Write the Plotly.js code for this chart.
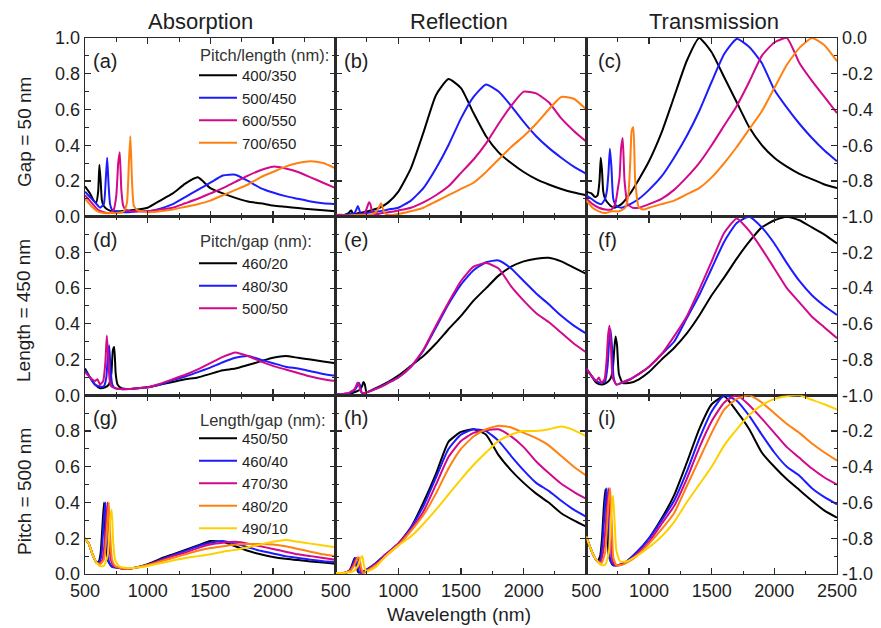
<!DOCTYPE html>
<html>
<head>
<meta charset="utf-8">
<script src="https://cdn.plot.ly/plotly-3.0.1.min.js"></script>
<style>html,body{margin:0;padding:0;background:#fff;}</style>
</head>
<body>
<div id="chart" style="width:881px;height:628px;"></div>
<script>
// ---------- spectra (wavelength in nm) ----------
// common long-wavelength grid, 1100-2500 nm
const tailWl = [1100, 1200, 1300, 1400, 1500, 1600, 1700, 1800, 1900, 2000, 2100, 2200, 2300, 2400, 2500];

// Row 1: gap = 50 nm, pitch/length
const wl_400_350 = [500, 540, 570, 590, 605, 615, 625, 635, 650, 680, 720, 780, 850, 920, 1000].concat(tailWl);
const abs_400_350 = [0.17, 0.13, 0.09, 0.08, 0.14, 0.29, 0.20, 0.09, 0.06, 0.04, 0.03, 0.03, 0.035, 0.04, 0.05,
  0.09, 0.13, 0.185, 0.22, 0.16, 0.13, 0.105, 0.085, 0.075, 0.062, 0.055, 0.048, 0.042, 0.036, 0.03];
const ref_400_350 = [0.01, 0.01, 0.01, 0.015, 0.02, 0.03, 0.035, 0.02, 0.015, 0.02, 0.025, 0.035, 0.05, 0.08, 0.14,
  0.27, 0.47, 0.68, 0.77, 0.72, 0.58, 0.45, 0.36, 0.30, 0.25, 0.21, 0.18, 0.155, 0.135, 0.12];
const tra_400_350 = [-0.86, -0.87, -0.89, -0.88, -0.80, -0.67, -0.74, -0.86, -0.90, -0.93, -0.95, -0.93, -0.87, -0.79, -0.69,
  -0.53, -0.33, -0.13, 0.0, -0.08, -0.22, -0.36, -0.50, -0.60, -0.67, -0.72, -0.76, -0.79, -0.82, -0.84];

const wl_500_450 = [500, 540, 580, 620, 650, 665, 677, 688, 700, 715, 740, 780, 850, 920, 1000].concat(tailWl);
const abs_500_450 = [0.14, 0.11, 0.08, 0.05, 0.07, 0.20, 0.33, 0.18, 0.07, 0.04, 0.03, 0.025, 0.025, 0.03, 0.03,
  0.045, 0.07, 0.11, 0.15, 0.19, 0.23, 0.235, 0.20, 0.16, 0.135, 0.115, 0.10, 0.085, 0.075, 0.07];
const ref_500_450 = [0.005, 0.01, 0.01, 0.015, 0.02, 0.04, 0.06, 0.04, 0.015, 0.015, 0.02, 0.025, 0.03, 0.04, 0.05,
  0.09, 0.16, 0.27, 0.40, 0.55, 0.67, 0.74, 0.70, 0.62, 0.53, 0.45, 0.385, 0.33, 0.28, 0.24];
const tra_500_450 = [-0.88, -0.90, -0.92, -0.93, -0.90, -0.85, -0.75, -0.62, -0.72, -0.90, -0.94, -0.95, -0.93, -0.90, -0.85,
  -0.775, -0.67, -0.55, -0.41, -0.245, -0.09, -0.005, -0.05, -0.14, -0.29, -0.39, -0.48, -0.56, -0.63, -0.69];

const wl_600_550 = [500, 550, 600, 650, 700, 730, 750, 765, 777, 790, 805, 830, 870, 920, 1000].concat(tailWl);
const abs_600_550 = [0.12, 0.08, 0.04, 0.025, 0.02, 0.04, 0.12, 0.30, 0.36, 0.15, 0.06, 0.035, 0.03, 0.03, 0.03,
  0.04, 0.05, 0.075, 0.10, 0.13, 0.16, 0.195, 0.23, 0.26, 0.28, 0.27, 0.25, 0.22, 0.19, 0.16];
const ref_600_550 = [0.01, 0.01, 0.005, 0.005, 0.01, 0.02, 0.05, 0.08, 0.07, 0.03, 0.015, 0.015, 0.02, 0.025, 0.035,
  0.05, 0.08, 0.12, 0.17, 0.245, 0.32, 0.41, 0.52, 0.62, 0.70, 0.69, 0.64, 0.55, 0.48, 0.42];
const tra_600_550 = [-0.90, -0.93, -0.95, -0.96, -0.96, -0.93, -0.85, -0.78, -0.62, -0.56, -0.80, -0.93, -0.95, -0.95, -0.93,
  -0.90, -0.85, -0.78, -0.70, -0.60, -0.49, -0.38, -0.245, -0.10, -0.025, 0.0, -0.14, -0.24, -0.33, -0.42];

const wl_700_650 = [500, 550, 600, 650, 700, 760, 810, 835, 850, 862, 875, 890, 920, 960, 1000].concat(tailWl);
const abs_700_650 = [0.10, 0.06, 0.03, 0.02, 0.02, 0.02, 0.03, 0.08, 0.30, 0.45, 0.20, 0.06, 0.035, 0.03, 0.025,
  0.03, 0.04, 0.055, 0.07, 0.09, 0.12, 0.15, 0.18, 0.22, 0.25, 0.28, 0.30, 0.31, 0.30, 0.27];
const ref_700_650 = [0.0, 0.005, 0.005, 0.01, 0.01, 0.01, 0.02, 0.04, 0.06, 0.075, 0.05, 0.02, 0.01, 0.01, 0.015,
  0.03, 0.05, 0.085, 0.12, 0.155, 0.19, 0.25, 0.32, 0.39, 0.45, 0.52, 0.60, 0.67, 0.66, 0.60];
const tra_700_650 = [-0.91, -0.95, -0.97, -0.98, -0.97, -0.97, -0.95, -0.88, -0.70, -0.52, -0.50, -0.80, -0.95, -0.96, -0.95,
  -0.93, -0.91, -0.875, -0.84, -0.78, -0.70, -0.61, -0.51, -0.41, -0.28, -0.15, -0.055, 0.0, -0.04, -0.13];

// Row 2: length = 450 nm, pitch/gap
const wl_460_20 = [500, 540, 580, 620, 660, 690, 710, 722, 733, 745, 760, 790, 850, 920, 1000].concat(tailWl);
const abs_460_20 = [0.15, 0.10, 0.06, 0.04, 0.045, 0.06, 0.12, 0.25, 0.27, 0.12, 0.06, 0.04, 0.035, 0.04, 0.045,
  0.06, 0.075, 0.09, 0.10, 0.12, 0.14, 0.15, 0.17, 0.19, 0.21, 0.22, 0.21, 0.20, 0.19, 0.18];
const ref_460_20 = [0.005, 0.005, 0.005, 0.01, 0.02, 0.03, 0.05, 0.075, 0.06, 0.02, 0.02, 0.03, 0.05, 0.075, 0.11,
  0.165, 0.22, 0.29, 0.37, 0.445, 0.53, 0.60, 0.67, 0.72, 0.75, 0.765, 0.77, 0.75, 0.715, 0.68];
const tra_460_20 = [-0.85, -0.89, -0.93, -0.94, -0.93, -0.91, -0.86, -0.75, -0.67, -0.72, -0.88, -0.93, -0.93, -0.91, -0.87,
  -0.80, -0.735, -0.655, -0.555, -0.44, -0.34, -0.235, -0.14, -0.06, -0.02, 0.0, -0.02, -0.06, -0.10, -0.15];

const wl_480_30 = [500, 540, 580, 620, 650, 670, 682, 693, 704, 718, 740, 780, 850, 920, 1000].concat(tailWl);
const abs_480_30 = [0.14, 0.10, 0.06, 0.05, 0.05, 0.10, 0.22, 0.28, 0.14, 0.06, 0.04, 0.035, 0.035, 0.04, 0.045,
  0.06, 0.085, 0.105, 0.13, 0.155, 0.185, 0.21, 0.22, 0.20, 0.18, 0.16, 0.15, 0.135, 0.12, 0.11];
const ref_480_30 = [0.005, 0.005, 0.01, 0.015, 0.03, 0.05, 0.07, 0.06, 0.02, 0.01, 0.015, 0.025, 0.045, 0.07, 0.10,
  0.16, 0.25, 0.38, 0.51, 0.62, 0.70, 0.745, 0.755, 0.71, 0.64, 0.57, 0.51, 0.445, 0.39, 0.345];
const tra_480_30 = [-0.85, -0.89, -0.92, -0.93, -0.92, -0.83, -0.70, -0.63, -0.72, -0.90, -0.94, -0.93, -0.91, -0.88, -0.84,
  -0.77, -0.70, -0.57, -0.44, -0.29, -0.14, -0.035, 0.0, -0.06, -0.15, -0.26, -0.36, -0.44, -0.50, -0.55];

const wl_500_50 = [500, 540, 580, 600, 620, 645, 662, 674, 685, 696, 710, 740, 780, 850, 920, 1000].concat(tailWl);
const abs_500_50 = [0.13, 0.10, 0.08, 0.09, 0.06, 0.08, 0.18, 0.335, 0.22, 0.09, 0.05, 0.04, 0.035, 0.035, 0.04, 0.045,
  0.065, 0.09, 0.115, 0.145, 0.18, 0.215, 0.24, 0.22, 0.19, 0.165, 0.145, 0.125, 0.105, 0.09, 0.08];
const ref_500_50 = [0.005, 0.005, 0.01, 0.01, 0.02, 0.03, 0.05, 0.07, 0.06, 0.03, 0.015, 0.015, 0.025, 0.045, 0.07, 0.10,
  0.16, 0.255, 0.39, 0.52, 0.64, 0.72, 0.74, 0.71, 0.61, 0.53, 0.46, 0.41, 0.35, 0.29, 0.24];
const tra_500_50 = [-0.85, -0.89, -0.92, -0.90, -0.93, -0.91, -0.80, -0.66, -0.61, -0.72, -0.90, -0.94, -0.93, -0.91, -0.88, -0.84,
  -0.77, -0.67, -0.56, -0.41, -0.25, -0.09, -0.01, -0.08, -0.18, -0.29, -0.40, -0.48, -0.56, -0.62, -0.68];

// Row 3: pitch = 500 nm, length/gap
const wl_450_50 = [500, 530, 560, 590, 610, 625, 640, 652, 664, 680, 710, 760, 820, 900, 1000].concat(tailWl);
const abs_450_50 = [0.20, 0.17, 0.11, 0.065, 0.07, 0.12, 0.28, 0.40, 0.20, 0.08, 0.045, 0.035, 0.03, 0.035, 0.055,
  0.085, 0.11, 0.135, 0.16, 0.185, 0.18, 0.155, 0.13, 0.11, 0.095, 0.085, 0.078, 0.07, 0.064, 0.058];
const ref_450_50 = [0.005, 0.005, 0.005, 0.01, 0.02, 0.04, 0.07, 0.09, 0.05, 0.01, 0.01, 0.03, 0.06, 0.11, 0.17,
  0.26, 0.40, 0.56, 0.74, 0.795, 0.81, 0.78, 0.665, 0.58, 0.51, 0.45, 0.40, 0.34, 0.30, 0.265];
const tra_450_50 = [-0.79, -0.85, -0.90, -0.93, -0.90, -0.80, -0.62, -0.525, -0.70, -0.90, -0.95, -0.95, -0.93, -0.88, -0.80,
  -0.69, -0.56, -0.38, -0.19, -0.05, -0.005, -0.09, -0.19, -0.32, -0.40, -0.47, -0.53, -0.59, -0.645, -0.685];

const wl_460_40 = [500, 530, 560, 590, 612, 630, 650, 663, 675, 690, 715, 760, 820, 900, 1000].concat(tailWl);
const abs_460_40 = [0.20, 0.17, 0.11, 0.065, 0.065, 0.10, 0.30, 0.40, 0.18, 0.07, 0.04, 0.035, 0.03, 0.035, 0.05,
  0.08, 0.105, 0.13, 0.155, 0.175, 0.185, 0.17, 0.15, 0.13, 0.115, 0.10, 0.09, 0.08, 0.072, 0.067];
const ref_460_40 = [0.005, 0.005, 0.005, 0.01, 0.02, 0.04, 0.08, 0.09, 0.04, 0.01, 0.01, 0.03, 0.06, 0.11, 0.17,
  0.26, 0.38, 0.54, 0.70, 0.78, 0.81, 0.80, 0.745, 0.66, 0.58, 0.51, 0.465, 0.41, 0.36, 0.32];
const tra_460_40 = [-0.79, -0.85, -0.90, -0.93, -0.92, -0.82, -0.60, -0.52, -0.72, -0.92, -0.95, -0.95, -0.93, -0.88, -0.80,
  -0.70, -0.59, -0.43, -0.245, -0.09, 0.0, -0.03, -0.115, -0.22, -0.32, -0.40, -0.45, -0.52, -0.57, -0.61];

const wl_470_30 = [500, 530, 560, 590, 615, 640, 665, 680, 692, 706, 730, 770, 830, 900, 1000].concat(tailWl);
const abs_470_30 = [0.20, 0.17, 0.11, 0.065, 0.06, 0.08, 0.25, 0.40, 0.20, 0.08, 0.045, 0.035, 0.03, 0.035, 0.05,
  0.075, 0.10, 0.12, 0.145, 0.165, 0.175, 0.18, 0.17, 0.155, 0.14, 0.125, 0.11, 0.10, 0.09, 0.08];
const ref_470_30 = [0.005, 0.005, 0.005, 0.01, 0.02, 0.05, 0.085, 0.09, 0.04, 0.01, 0.01, 0.03, 0.06, 0.11, 0.17,
  0.25, 0.35, 0.50, 0.655, 0.745, 0.79, 0.805, 0.81, 0.77, 0.71, 0.63, 0.565, 0.505, 0.46, 0.42];
const tra_470_30 = [-0.79, -0.85, -0.90, -0.93, -0.93, -0.85, -0.62, -0.52, -0.72, -0.92, -0.95, -0.95, -0.93, -0.89, -0.82,
  -0.72, -0.62, -0.47, -0.295, -0.145, -0.04, 0.0, -0.055, -0.13, -0.21, -0.29, -0.35, -0.41, -0.46, -0.50];

const wl_480_20 = [500, 530, 560, 590, 620, 650, 675, 690, 702, 716, 740, 780, 840, 900, 1000].concat(tailWl);
const abs_480_20 = [0.20, 0.17, 0.11, 0.065, 0.055, 0.08, 0.25, 0.40, 0.20, 0.08, 0.045, 0.035, 0.03, 0.035, 0.05,
  0.07, 0.09, 0.11, 0.13, 0.145, 0.155, 0.165, 0.168, 0.168, 0.165, 0.155, 0.14, 0.125, 0.11, 0.10];
const ref_480_20 = [0.005, 0.005, 0.005, 0.01, 0.02, 0.05, 0.09, 0.09, 0.04, 0.01, 0.01, 0.03, 0.06, 0.10, 0.16,
  0.24, 0.33, 0.45, 0.59, 0.70, 0.77, 0.81, 0.83, 0.82, 0.79, 0.76, 0.72, 0.66, 0.60, 0.55];
const tra_480_20 = [-0.79, -0.85, -0.90, -0.93, -0.94, -0.88, -0.62, -0.52, -0.70, -0.91, -0.95, -0.95, -0.93, -0.90, -0.83,
  -0.75, -0.66, -0.51, -0.36, -0.21, -0.08, -0.02, 0.0, -0.04, -0.10, -0.16, -0.21, -0.27, -0.32, -0.365];

const wl_490_10 = [500, 530, 560, 590, 620, 650, 680, 700, 713, 725, 740, 770, 820, 900, 1000].concat(tailWl);
const abs_490_10 = [0.20, 0.17, 0.11, 0.065, 0.045, 0.045, 0.10, 0.30, 0.36, 0.18, 0.08, 0.045, 0.035, 0.035, 0.045,
  0.06, 0.075, 0.09, 0.10, 0.11, 0.125, 0.135, 0.15, 0.165, 0.18, 0.19, 0.18, 0.17, 0.16, 0.15];
const ref_490_10 = [0.005, 0.005, 0.005, 0.01, 0.01, 0.02, 0.05, 0.09, 0.10, 0.05, 0.02, 0.02, 0.04, 0.10, 0.16,
  0.21, 0.28, 0.36, 0.445, 0.53, 0.61, 0.68, 0.745, 0.78, 0.80, 0.80, 0.81, 0.825, 0.805, 0.77];
const tra_490_10 = [-0.79, -0.85, -0.90, -0.93, -0.95, -0.95, -0.88, -0.65, -0.56, -0.70, -0.87, -0.93, -0.93, -0.90, -0.85,
  -0.79, -0.71, -0.60, -0.50, -0.40, -0.28, -0.19, -0.11, -0.055, -0.02, -0.005, 0.0, -0.025, -0.05, -0.08];

// ---------- labels ----------
const columnTitles = ['Absorption', 'Reflection', 'Transmission'];
const rowTitles = ['Gap = 50 nm', 'Length = 450 nm', 'Pitch = 500 nm'];
const panelLetters = ['(a)', '(b)', '(c)', '(d)', '(e)', '(f)', '(g)', '(h)', '(i)'];
const legendTitles = ['Pitch/length (nm):', 'Pitch/gap (nm):', 'Length/gap (nm):'];
const rowNames = [
  ['400/350', '500/450', '600/550', '700/650'],
  ['460/20', '480/30', '500/50'],
  ['450/50', '460/40', '470/30', '480/20', '490/10']
];
const xTickVals = [500, 1000, 1500, 2000, 2500];
const xTickText = ['500', '1000', '1500', '2000', '2500'];
const yTickVals = [0, 0.2, 0.4, 0.6, 0.8, 1.0];
const yTickText = ['0.0', '0.2', '0.4', '0.6', '0.8', '1.0'];
const tTickVals = [-1.0, -0.8, -0.6, -0.4, -0.2, 0.0];
const tTickText = ['-1.0', '-0.8', '-0.6', '-0.4', '-0.2', '0.0'];

// ---------- assemble ----------
const rowsData = [
  [[wl_400_350, abs_400_350, ref_400_350, tra_400_350],
   [wl_500_450, abs_500_450, ref_500_450, tra_500_450],
   [wl_600_550, abs_600_550, ref_600_550, tra_600_550],
   [wl_700_650, abs_700_650, ref_700_650, tra_700_650]],
  [[wl_460_20, abs_460_20, ref_460_20, tra_460_20],
   [wl_480_30, abs_480_30, ref_480_30, tra_480_30],
   [wl_500_50, abs_500_50, ref_500_50, tra_500_50]],
  [[wl_450_50, abs_450_50, ref_450_50, tra_450_50],
   [wl_460_40, abs_460_40, ref_460_40, tra_460_40],
   [wl_470_30, abs_470_30, ref_470_30, tra_470_30],
   [wl_480_20, abs_480_20, ref_480_20, tra_480_20],
   [wl_490_10, abs_490_10, ref_490_10, tra_490_10]]
];
const palette = ['#000000', '#1c1cff', '#d1098a', '#ff8010', '#ffd000'];
const legendKeys = ['legend', 'legend2', 'legend3'];

const traces = [];
rowsData.forEach(function (row, r) {
  row.forEach(function (cfg, k) {
    for (let c = 0; c < 3; c++) {
      const idx = r * 3 + c + 1;
      const suf = idx > 1 ? String(idx) : '';
      traces.push({
        type: 'scatter', mode: 'lines',
        x: cfg[0], y: cfg[c + 1],
        xaxis: 'x' + suf, yaxis: 'y' + suf,
        name: rowNames[r][k],
        legend: legendKeys[r],
        showlegend: c === 0,
        line: {color: palette[k], width: 2, shape: 'spline', smoothing: 0.5},
        hoverinfo: 'skip'
      });
    }
  });
});

const FONT = '"Liberation Sans", Arial, sans-serif';
const INK = '#1e1e1e';
const L = 85, R = 837, T = 38, B = 574;
const px2x = function (p) { return (p - L) / (R - L); };
const px2y = function (p) { return (B - p) / (B - T); };

const layout = {
  width: 881, height: 628,
  margin: {l: L, r: 881 - R, t: T, b: 628 - B},
  paper_bgcolor: '#ffffff', plot_bgcolor: '#ffffff',
  font: {family: FONT, size: 18, color: INK},
  showlegend: true,
  annotations: []
};

for (let r = 0; r < 3; r++) {
  for (let c = 0; c < 3; c++) {
    const idx = r * 3 + c + 1;
    const suf = idx > 1 ? String(idx) : '';
    const bottom = r === 2;
    const xv = c === 2 ? xTickVals : xTickVals.slice(0, 4);
    const xt = c === 2 ? xTickText : xTickText.slice(0, 4);
    layout['xaxis' + suf] = {
      domain: [c / 3, (c + 1) / 3], anchor: 'y' + suf,
      range: [500, 2500], showgrid: false, zeroline: false,
      showline: true, linecolor: '#2a2a2a', linewidth: 1.4, mirror: 'allticks',
      ticks: 'inside', ticklen: 6, tickwidth: 1.2, tickcolor: '#2a2a2a',
      tickmode: 'array', tickvals: xv, ticktext: xt,
      showticklabels: bottom,
      tickfont: {family: FONT, size: 18, color: INK},
      minor: {ticks: 'inside', ticklen: 3.5, tickwidth: 1, tickcolor: '#2a2a2a', tickmode: 'linear', tick0: 500, dtick: 250, showgrid: false}
    };
    const trans = c === 2;
    let yv = trans ? tTickVals : yTickVals;
    let yt = trans ? tTickText : yTickText;
    if (r > 0) {
      // the top label of the lower rows would sit on the row above's bottom label
      yv = trans ? yv.slice(0, 5) : yv.slice(0, 5);
      yt = trans ? yt.slice(0, 5) : yt.slice(0, 5);
    }
    layout['yaxis' + suf] = {
      domain: [(2 - r) / 3, (3 - r) / 3], anchor: 'x' + suf,
      range: trans ? [-1, 0] : [0, 1],
      side: trans ? 'right' : 'left',
      showgrid: false, zeroline: false,
      showline: true, linecolor: '#2a2a2a', linewidth: 1.4, mirror: 'allticks',
      ticks: 'inside', ticklen: 6, tickwidth: 1.2, tickcolor: '#2a2a2a',
      tickmode: 'array', tickvals: yv, ticktext: yt,
      showticklabels: c !== 1,
      tickfont: {family: FONT, size: 18, color: INK},
      minor: {ticks: 'inside', ticklen: 3.5, tickwidth: 1, tickcolor: '#2a2a2a', tickmode: 'linear', tick0: 0, dtick: 0.1, showgrid: false}
    };
  }
}

// column headings
const colCenters = [200, 459, 714];
columnTitles.forEach(function (t, c) {
  layout.annotations.push({text: t, xref: 'paper', yref: 'paper', x: px2x(colCenters[c]), y: px2y(22),
    xanchor: 'center', yanchor: 'middle', showarrow: false, font: {family: FONT, size: 22, color: INK}});
});
// row headings
const rowCenters = [132, 311, 492];
rowTitles.forEach(function (t, r) {
  layout.annotations.push({text: t, xref: 'paper', yref: 'paper', x: px2x(24), y: px2y(rowCenters[r]),
    xanchor: 'center', yanchor: 'middle', textangle: -90, showarrow: false, font: {family: FONT, size: 19, color: INK}});
});
// panel letters
const letterX = [91, 342, 596];
const letterY = [61, 240, 418];
panelLetters.forEach(function (t, i) {
  const r = Math.floor(i / 3), c = i % 3;
  layout.annotations.push({text: t, xref: 'paper', yref: 'paper', x: px2x(letterX[c]), y: px2y(letterY[r]),
    xanchor: 'left', yanchor: 'middle', showarrow: false, font: {family: FONT, size: 20, color: INK}});
});
// shared x title
layout.annotations.push({text: 'Wavelength (nm)', xref: 'paper', yref: 'paper', x: px2x(459), y: px2y(614),
  xanchor: 'center', yanchor: 'middle', showarrow: false, font: {family: FONT, size: 19, color: INK}});

// legend headings
const legendHeadY = [55, 241, 420];
legendTitles.forEach(function (t, r) {
  layout.annotations.push({text: t, xref: 'paper', yref: 'paper', x: px2x(198), y: px2y(legendHeadY[r]),
    xanchor: 'left', yanchor: 'middle', showarrow: false, font: {family: FONT, size: 16.5, color: '#333333'}});
});

// legends, one per row
const legendTop = [59, 247, 422];
legendKeys.forEach(function (key, r) {
  layout[key] = {
    x: px2x(194), y: px2y(legendTop[r]), xanchor: 'left', yanchor: 'top',
    xref: 'paper', yref: 'paper',
    bgcolor: 'rgba(0,0,0,0)', borderwidth: 0,
    font: {family: FONT, size: 15, color: INK},
    tracegroupgap: 0, itemwidth: 38, traceorder: 'normal'
  };
});

Plotly.newPlot('chart', traces, layout, {displayModeBar: false, staticPlot: true});
</script>
</body>
</html>
